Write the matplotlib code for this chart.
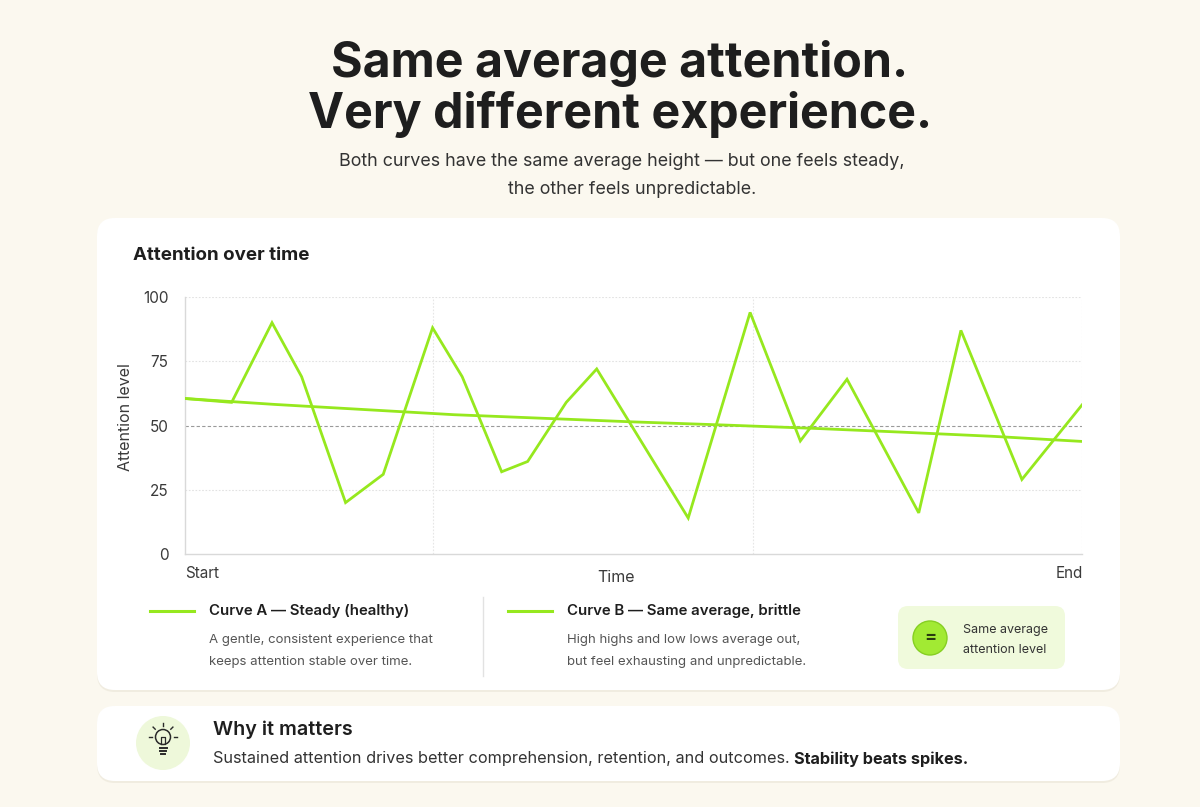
import numpy as np
import matplotlib
matplotlib.use("Agg")
import matplotlib.pyplot as plt
from matplotlib.patches import FancyBboxPatch, Circle

# data
time_a = [0, 10, 20, 30, 40, 50, 60, 70, 80, 90, 100]
curve_a = [60.5, 58.2, 56.2, 54.2, 52.8, 51.4, 50.2, 48.9, 47.4, 45.8, 43.8]

time_b = [0, 5.2, 9.7, 13.0, 17.9, 22.1, 27.6, 30.9, 35.3, 38.2, 42.5, 45.9,
          56.1, 63.0, 68.6, 73.8, 81.8, 86.5, 93.3, 100]
curve_b = [60.5, 59, 90, 69, 20, 31, 88, 69, 32, 36, 59, 72,
           14, 94, 44, 68, 16, 87, 29, 58]

y_ticks = [0, 25, 50, 75, 100]
x_grid = [27.6, 63.3]
avg_level = 50

title = "Same average attention.\nVery different experience."
subtitle = ["Both curves have the same average height \u2014 but one feels steady,",
            "the other feels unpredictable."]
legend_a = ("Curve A \u2014 Steady (healthy)",
            ["A gentle, consistent experience that", "keeps attention stable over time."])
legend_b = ("Curve B \u2014 Same average, brittle",
            ["High highs and low lows average out,", "but feel exhausting and unpredictable."])

BG = "#FBF8EF"
LIME = "#96E81E"
DARK = "#1E1E1E"
GREY = "#555555"

plt.rcParams['font.family'] = ['Inter', 'DejaVu Sans']

W, H = 1200, 807
fig = plt.figure(figsize=(W / 100, H / 100), dpi=100, facecolor=BG)

# pixel-space overlay for cards and text
bg = fig.add_axes([0, 0, 1, 1], zorder=0)
bg.set_xlim(0, W)
bg.set_ylim(H, 0)
bg.axis("off")


def card(x0, y0, x1, y1, r=18, fc="white"):
    shadow = FancyBboxPatch((x0, y0 + 2), x1 - x0, y1 - y0,
                            boxstyle=f"round,pad=0,rounding_size={r}",
                            fc="#E9E4D6", ec="none", alpha=0.6)
    bg.add_patch(shadow)
    bg.add_patch(FancyBboxPatch((x0, y0), x1 - x0, y1 - y0,
                                boxstyle=f"round,pad=0,rounding_size={r}",
                                fc=fc, ec="none"))


# header
bg.text(620, 89, title, ha="center", va="center", fontsize=34.8, fontweight="bold",
        color=DARK, linespacing=1.1)
bg.text(622, 162, subtitle[0], ha="center", va="center", fontsize=12.9, color="#333333")
bg.text(632, 189, subtitle[1], ha="center", va="center", fontsize=12.9, color="#333333")

# main card
card(97, 218, 1120, 690)
bg.text(133, 255, "Attention over time", ha="left", va="center", fontsize=13.5,
        fontweight="bold", color=DARK)

# chart
ax = fig.add_axes([185 / W, 1 - 554 / H, (1082 - 185) / W, (554 - 297) / H], zorder=1)
ax.set_facecolor("none")
ax.set_xlim(0, 100)
ax.set_ylim(0, 100)
for yv in y_ticks[1:]:
    if yv == avg_level:
        ax.axhline(yv, color="#9A9A9A", lw=0.8, ls=(0, (3, 2)), zorder=1)
    else:
        ax.axhline(yv, color="#E2E2E2", lw=0.8, ls=(0, (1.5, 1.5)), zorder=1)
for xv in x_grid + [100]:
    ax.axvline(xv, color="#E6E6E6", lw=0.8, ls=(0, (1.5, 1.5)), zorder=1)
ax.plot(time_a, curve_a, color=LIME, lw=2.0, solid_capstyle="round", zorder=3)
ax.plot(time_b, curve_b, color=LIME, lw=2.0, solid_joinstyle="miter", zorder=3)
ax.set_yticks(y_ticks)
ax.set_xticks([])
ax.tick_params(axis="y", length=0, pad=12, labelsize=11, labelcolor="#3A3A3A")
for s in ["top", "right"]:
    ax.spines[s].set_visible(False)
for s in ["left", "bottom"]:
    ax.spines[s].set_color("#D9D9D9")
    ax.spines[s].set_linewidth(1.0)

bg.text(126, 417, "Attention level", rotation=90, ha="center", va="center",
        fontsize=11.5, color="#3A3A3A")
bg.text(185, 573, "Start", ha="left", va="center", fontsize=11, color="#3A3A3A")
bg.text(1083, 573, "End", ha="right", va="center", fontsize=11, color="#3A3A3A")
bg.text(616, 577, "Time", ha="center", va="center", fontsize=11.5, color="#3A3A3A")

# legend
for (head, desc), lx, tx in [(legend_a, 150, 209), (legend_b, 508, 567)]:
    bg.plot([lx, lx + 44], [611, 611], color=LIME, lw=2.2)
    bg.text(tx, 611, head, ha="left", va="center", fontsize=10.8,
            fontweight="semibold", color=DARK)
    bg.text(tx, 640, desc[0], ha="left", va="center", fontsize=9.5, color=GREY)
    bg.text(tx, 662, desc[1], ha="left", va="center", fontsize=9.5, color=GREY)
bg.plot([483, 483], [597, 676], color="#E2E2E2", lw=1)

# badge
bg.add_patch(FancyBboxPatch((898, 606), 167, 63, boxstyle="round,pad=0,rounding_size=10",
                            fc="#F0FADC", ec="none"))
bg.add_patch(Circle((930, 638), 17, fc="#A2EA33", ec="#86CF22", lw=1))
bg.text(930, 637, "=", ha="center", va="center", fontsize=13, fontweight="bold", color="#2A3A10")
bg.text(963, 630, "Same average", ha="left", va="center", fontsize=9, color="#333333")
bg.text(963, 650, "attention level", ha="left", va="center", fontsize=9, color="#333333")

# bottom card
card(97, 706, 1120, 781)
bg.add_patch(Circle((163, 743), 27, fc="#EEF8DA", ec="none"))
# lightbulb glyph
bulb_col = "#2A2A2A"
bg.add_patch(Circle((163, 737), 7.5, fc="none", ec=bulb_col, lw=1.1))
bg.plot([159.5, 166.5], [748, 748], color=bulb_col, lw=1.4)
bg.plot([160, 166], [751, 751], color=bulb_col, lw=1.4)
bg.plot([161, 165], [754, 754], color=bulb_col, lw=1.4)
bg.plot([161, 161, 165, 165], [744, 737, 737, 744], color=bulb_col, lw=0.9)
for ang in [90, 45, 135, 0, 180]:
    a = np.deg2rad(ang)
    r0, r1 = 11, 14
    bg.plot([163 + r0 * np.cos(a), 163 + r1 * np.cos(a)],
            [737 - r0 * np.sin(a), 737 - r1 * np.sin(a)], color=bulb_col, lw=1.0)

bg.text(213, 730, "Why it matters", ha="left", va="center", fontsize=14.2,
        fontweight="semibold", color=DARK)
t1 = bg.text(213, 759, "Sustained attention drives better comprehension, retention, and outcomes. ",
             ha="left", va="center", fontsize=11.7, color="#333333")
fig.canvas.draw()
bg.annotate("Stability beats spikes.", xy=(1, 0.5), xycoords=t1, ha="left", va="center",
            fontsize=11.7, fontweight="bold", color=DARK)

fig.savefig("out.png", dpi=100, facecolor=BG)
